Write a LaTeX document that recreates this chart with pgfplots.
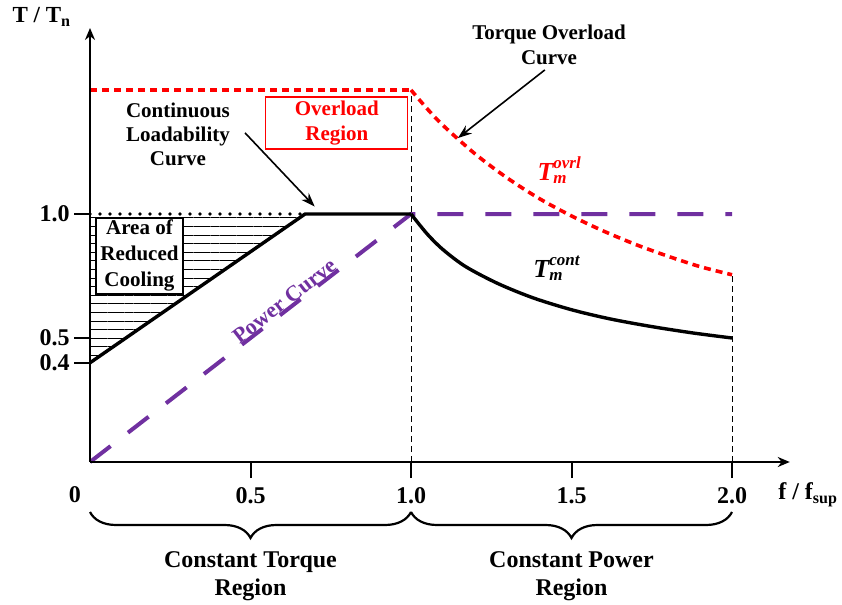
\documentclass[border=0pt]{standalone}
\usepackage{fontspec}
\setmainfont{Liberation Serif}
\usepackage{pgfplots}
\pgfplotsset{compat=1.18}
\usetikzlibrary{arrows.meta,decorations.pathreplacing,patterns.meta}
\definecolor{purp}{HTML}{7030A0}
\newcommand\Tsub[2]{T\rlap{\raisebox{-1.5pt}{\fontsize{8.5}{9}\selectfont #1}}\raisebox{6pt}{\fontsize{8.5}{9}\selectfont #2}}
\begin{document}
\begin{tikzpicture}
\begin{axis}[
 x=160.5pt, y=124pt, xmin=0, xmax=2.18, ymin=0, ymax=1.75, enlargelimits=false,
 axis lines=left, clip=false, axis on top,
 axis line style={line width=1pt,-{Stealth[length=6pt,width=5pt]}},
 xtick={0.5,1,1.5,2}, xticklabels={0.5,1.0,1.5,2.0},
 ytick={0.4,0.5,1}, yticklabels={0.4,0.5,1.0},
 tick align=outside, major tick length=8pt,
 major tick style={draw=black, line width=1pt},
 xticklabel style={font=\bfseries\fontsize{12}{14}\selectfont, inner sep=0pt, yshift=-4.5pt},
 yticklabel style={font=\bfseries\fontsize{12}{14}\selectfont, inner sep=0pt, xshift=-2pt},
]
% hatched area of reduced cooling
\addplot[draw=none, pattern={Lines[angle=0,distance=4.3pt,line width=0.5pt]}] coordinates {(0,0.4) (0.67,1) (0,1) (0,0.4)};
% area box
\node[draw, fill=white, line width=0.6pt, minimum width=43.5pt, minimum height=38pt, inner sep=0pt, align=center,
      font=\bfseries\fontsize{10.5}{13}\selectfont] at (axis cs:0.154,0.831) {Area of\\Reduced\\Cooling};
% vertical guides
\addplot[black, line width=0.5pt, dash pattern=on 3pt off 2pt] coordinates {(1,0) (1,1.5)};
\addplot[black, line width=0.5pt, dash pattern=on 3pt off 2pt] coordinates {(2,0) (2,0.755)};
% power curve
\addplot[purp, line width=2pt, dash pattern=on 13pt off 11pt] coordinates {(0,0) (1,1) (2,1)};
% continuous loadability curve
\addplot[black, line width=1.7pt] coordinates {(0,0.4) (0.67,1) (1,1)};
\addplot[black, line width=1.7pt, smooth] coordinates {(1,1) (1.05,0.920) (1.10,0.856) (1.17,0.788) (1.27,0.720) (1.38,0.662) (1.50,0.614) (1.62,0.577) (1.75,0.546) (1.88,0.520) (2.0,0.5)};
% dotted nominal line
\addplot[black, line width=1.9pt, line cap=round, dash pattern=on 0pt off 5pt] coordinates {(0,1) (0.67,1)};
% overload curve
\addplot[red, line width=1.8pt, dash pattern=on 3.5pt off 2.5pt] coordinates {(0,1.5) (1,1.5)};
\addplot[red, line width=1.8pt, dash pattern=on 3.5pt off 2.5pt, smooth] coordinates {(1,1.5) (1.05,1.425) (1.1,1.357) (1.2,1.242) (1.3,1.145) (1.4,1.062) (1.5,0.992) (1.6,0.931) (1.7,0.877) (1.8,0.830) (1.9,0.788) (2.0,0.755)};
% tick marks (outward), drawn explicitly in axis units
\draw[line width=1pt] (axis cs:0.5,0) -- (axis cs:0.5,-0.0645);
\draw[line width=1pt] (axis cs:1,0) -- (axis cs:1,-0.0645);
\draw[line width=1pt] (axis cs:1.5,0) -- (axis cs:1.5,-0.0645);
\draw[line width=1pt] (axis cs:2,0) -- (axis cs:2,-0.0645);
\draw[line width=1pt] (axis cs:0,1) -- (axis cs:-0.0498,1);
\draw[line width=1pt] (axis cs:0,0.5) -- (axis cs:-0.0498,0.5);
\draw[line width=1pt] (axis cs:0,0.4) -- (axis cs:-0.0498,0.4);
% labels
\node[font=\bfseries\fontsize{12}{14}\selectfont, inner sep=0pt] at (axis cs:-0.047,-0.133) {0};
\node[font=\bfseries\fontsize{12}{14}\selectfont, anchor=west, inner sep=0pt] at (axis cs:2.143,-0.133) {f / f\textsubscript{sup}};
\node[font=\bfseries\fontsize{11.5}{14}\selectfont, inner sep=0pt] at (axis cs:-0.150,1.794) {T / T\textsubscript{n}};
\node[align=center, font=\bfseries\fontsize{10.5}{12}\selectfont] at (axis cs:0.274,1.323) {Continuous\\Loadability\\Curve};
\draw[-{Stealth[length=7pt,width=5pt]}, line width=0.8pt] (axis cs:0.483,1.327) -- (axis cs:0.70,1.03);
\node[draw=red, text=red, line width=0.6pt, minimum width=71pt, minimum height=26pt, inner sep=0pt, align=center,
      font=\bfseries\fontsize{10.5}{12.5}\selectfont] at (axis cs:0.769,1.367) {Overload\\Region};
\node[align=center, font=\bfseries\fontsize{10.5}{12.5}\selectfont] at (axis cs:1.430,1.683) {Torque Overload\\Curve};
\draw[-{Stealth[length=7pt,width=5pt]}, line width=0.8pt] (axis cs:1.417,1.581) -- (axis cs:1.146,1.306);
\node[anchor=base west, inner sep=0pt, text=red, font=\bfseries\itshape\fontsize{13}{14}\selectfont] at (axis cs:1.393,1.137) {\Tsub{m}{ovrl}};
\node[anchor=base west, inner sep=0pt, font=\bfseries\itshape\fontsize{13}{14}\selectfont] at (axis cs:1.380,0.742) {\Tsub{m}{cont}};
\node[rotate=37.7, anchor=south, inner sep=0.5pt, text=purp, font=\bfseries\fontsize{11}{13}\selectfont] at (axis cs:0.622,0.622) {Power Curve};
% braces
\draw[decorate, decoration={brace, mirror, amplitude=13pt}, line width=1.1pt] (axis cs:0,-0.2016) -- (axis cs:1,-0.2016);
\draw[decorate, decoration={brace, mirror, amplitude=13pt}, line width=1.1pt] (axis cs:1,-0.2016) -- (axis cs:2,-0.2016);
\node[align=center, font=\bfseries\fontsize{12}{14}\selectfont] at (axis cs:0.5,-0.46) {Constant Torque\\Region};
\node[align=center, font=\bfseries\fontsize{12}{14}\selectfont] at (axis cs:1.5,-0.46) {Constant Power\\Region};
\coordinate (bbsw) at (axis cs:-0.2804,-0.5766);
\coordinate (bbne) at (axis cs:2.3427,1.8629);
\end{axis}
\pgfresetboundingbox
\path[use as bounding box] (bbsw) rectangle (bbne);
\end{tikzpicture}
\end{document}
